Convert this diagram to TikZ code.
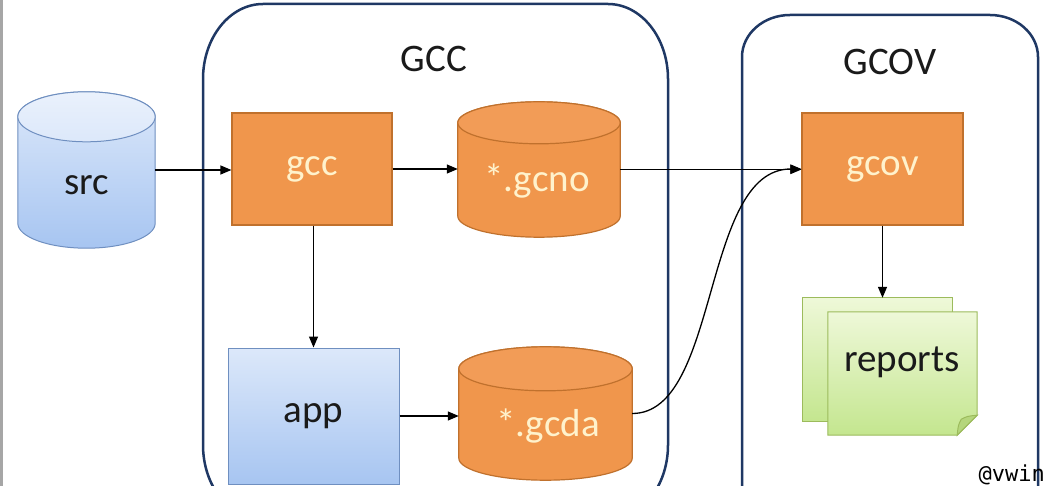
\documentclass[tikz,border=0pt]{standalone}
\usepackage{fontspec}
\setmainfont{Carlito}
\setmonofont{DejaVu Sans Mono}
\usetikzlibrary{arrows.meta,calc}

\definecolor{framecol}{HTML}{1F3864}
\definecolor{orangefill}{HTML}{F0964C}
\definecolor{orangetop}{HTML}{F29C57}
\definecolor{orangeline}{HTML}{C0712D}
\definecolor{cream}{HTML}{FFF2CC}
\definecolor{bluetop}{HTML}{DCE8FA}
\definecolor{bluebot}{HTML}{A7C5F1}
\definecolor{blueline}{HTML}{6F8FC0}
\definecolor{greentop}{HTML}{EEF8D8}
\definecolor{greenbot}{HTML}{C4E68F}
\definecolor{greenline}{HTML}{9CBB5C}
\definecolor{greenfold}{HTML}{B5D67C}
\definecolor{inkdark}{HTML}{1A1A1A}
\definecolor{edgegray}{HTML}{A6A6A6}

\pgfdeclarelayer{bg}
\pgfsetlayers{bg,main}

% cylinder drawn inside the box of a named node: #1 node, #2 cap radius,
% #3 body style, #4 cap style
\newcommand\gcylinder[4]{%
  \path[#3] let \p1=(#1.north west), \p2=(#1.south east), \n1={(\x2-\x1)/2} in
    (\x1,\y1-#2) -- (\x1,\y2+#2)
    arc[start angle=180,end angle=360,x radius=\n1,y radius=#2]
    -- (\x2,\y1-#2)
    arc[start angle=0,end angle=180,x radius=\n1,y radius=#2] -- cycle;
  \path[#4] let \p1=(#1.north west), \p2=(#1.south east), \n1={(\x2-\x1)/2} in
    ({(\x1+\x2)/2},\y1-#2) ellipse[x radius=\n1,y radius=#2];
}

\tikzset{
  bigfont/.style={font=\fontsize{39}{41}\selectfont},
  holder/.style={draw=none,inner sep=0pt},
  orangebox/.style={draw=orangeline,fill=orangefill,line width=1.2pt,
    text=cream,inner sep=0pt,bigfont},
  bluebox/.style={draw=blueline,top color=bluetop,bottom color=bluebot,
    line width=1pt,text=inkdark,inner sep=0pt,bigfont},
  creamtext/.style={text=cream,inner sep=0pt,bigfont},
  darktext/.style={text=inkdark,inner sep=0pt,bigfont},
  bluebody/.style={draw=blueline,line width=1pt,top color=bluetop,bottom color=bluebot},
  bluecap/.style={draw=blueline,line width=1pt,top color=white!40!bluetop,bottom color=bluetop},
  orangebody/.style={draw=orangeline,line width=1.2pt,fill=orangefill},
  orangecap/.style={draw=orangeline,line width=1.2pt,fill=orangetop},
  notefill/.style={draw=greenline,line width=1pt,top color=greentop,bottom color=greenbot},
  framebox/.style={draw=framecol,line width=2.5pt},
  flow/.style={-{Triangle[length=11pt,width=9pt]},line width=1.3pt,black},
}

\begin{document}
\begin{tikzpicture}[x=1pt,y=-1pt]
\useasboundingbox (0,0) rectangle (1046,486);

% boxes and holders for the drawn shapes
\node[holder,minimum width=137pt,minimum height=156pt] (src) at (86.5,170) {};
\node[darktext] (src-text) at (87,185) {src};

\node[orangebox,minimum width=160pt,minimum height=112pt] (gcc) at (312,169) {gcc};
\node[bluebox,minimum width=171pt,minimum height=136pt] (app) at (313.5,416) {app};

\node[holder,minimum width=162pt,minimum height=135pt] (gcno) at (539,169.5) {};
\node[creamtext] (gcno-text) at (537,181) {*.gcno};

\node[holder,minimum width=173pt,minimum height=133pt] (gcda) at (545.5,413.5) {};
\node[creamtext] (gcda-text) at (548,426) {*.gcda};

\node[orangebox,minimum width=161pt,minimum height=112pt] (gcov) at (882.5,169) {gcov};

\node[holder,minimum width=149pt,minimum height=123pt] (reports-back) at (877.5,359.5) {};
\node[holder,minimum width=149pt,minimum height=123pt] (reports) at (902.5,373.5) {};
\node[darktext] (reports-text) at (902,362) {reports};

\node[darktext] (gcc-title) at (434,59) {GCC};
\node[darktext] (gcov-title) at (890,62) {GCOV};

\node[anchor=base east,inner sep=0pt,text=black,
      font=\ttfamily\fontsize{22}{24}\selectfont] (mark) at (1045,481) {@vwin};

\begin{pgfonlayer}{bg}
  \fill[white] (0,0) rectangle (1046,486);
  \fill[edgegray] (0,0) rectangle (3,486);

  % GCC group frame
  \path[framebox] (203,79) -- (203,445)
    arc[start angle=180,end angle=270,x radius=60pt,y radius=75pt]
    -- (608,520)
    arc[start angle=270,end angle=360,x radius=60pt,y radius=75pt]
    -- (668,79)
    arc[start angle=0,end angle=90,x radius=60pt,y radius=75pt]
    -- (263,4)
    arc[start angle=90,end angle=180,x radius=60pt,y radius=75pt] -- cycle;

  % GCOV group frame
  \path[framebox] (742,57) -- (742,503)
    arc[start angle=180,end angle=270,x radius=48pt,y radius=42pt]
    -- (990,545)
    arc[start angle=270,end angle=360,x radius=48pt,y radius=42pt]
    -- (1038,57)
    arc[start angle=0,end angle=90,x radius=48pt,y radius=42pt]
    -- (790,15)
    arc[start angle=90,end angle=180,x radius=48pt,y radius=42pt] -- cycle;

  % data stores
  \gcylinder{src}{25pt}{bluebody}{bluecap}
  \gcylinder{gcno}{21pt}{orangebody}{orangecap}
  \gcylinder{gcda}{22pt}{orangebody}{orangecap}

  % stacked report sheets
  \path[notefill] (reports-back.north west) rectangle (reports-back.south east);
  \path[notefill] (reports.north west) -- (reports.north east)
    -- ([yshift=20pt]reports.south east) -- ([xshift=-20pt]reports.south east)
    -- (reports.south west) -- cycle;
  \path[draw=greenline,line width=1pt,fill=greenfold]
    ([xshift=-20pt]reports.south east)
    .. controls ([xshift=-19pt,yshift=10pt]reports.south east) .. ([xshift=-16pt,yshift=16pt]reports.south east)
    .. controls ([xshift=-10pt,yshift=19pt]reports.south east) .. ([yshift=20pt]reports.south east)
    -- cycle;
\end{pgfonlayer}

% connectors
\draw[flow] (src.east) -- (src.east -| gcc.west);
\draw[flow] (gcc.east) -- (gcc.east -| gcno.west);
\draw[flow] (gcno.east) -- (gcno.east -| gcov.west);
\draw[flow] (app.north |- gcc.south) -- (app.north);
\draw[flow] (app.east) -- (app.east -| gcda.west);
\draw[flow] (gcda.east) .. controls +(88,0) and +(-100,0) .. (gcov.west);
\draw[flow] (gcov.south) -- (gcov.south |- reports-back.north);
\end{tikzpicture}
\end{document}
